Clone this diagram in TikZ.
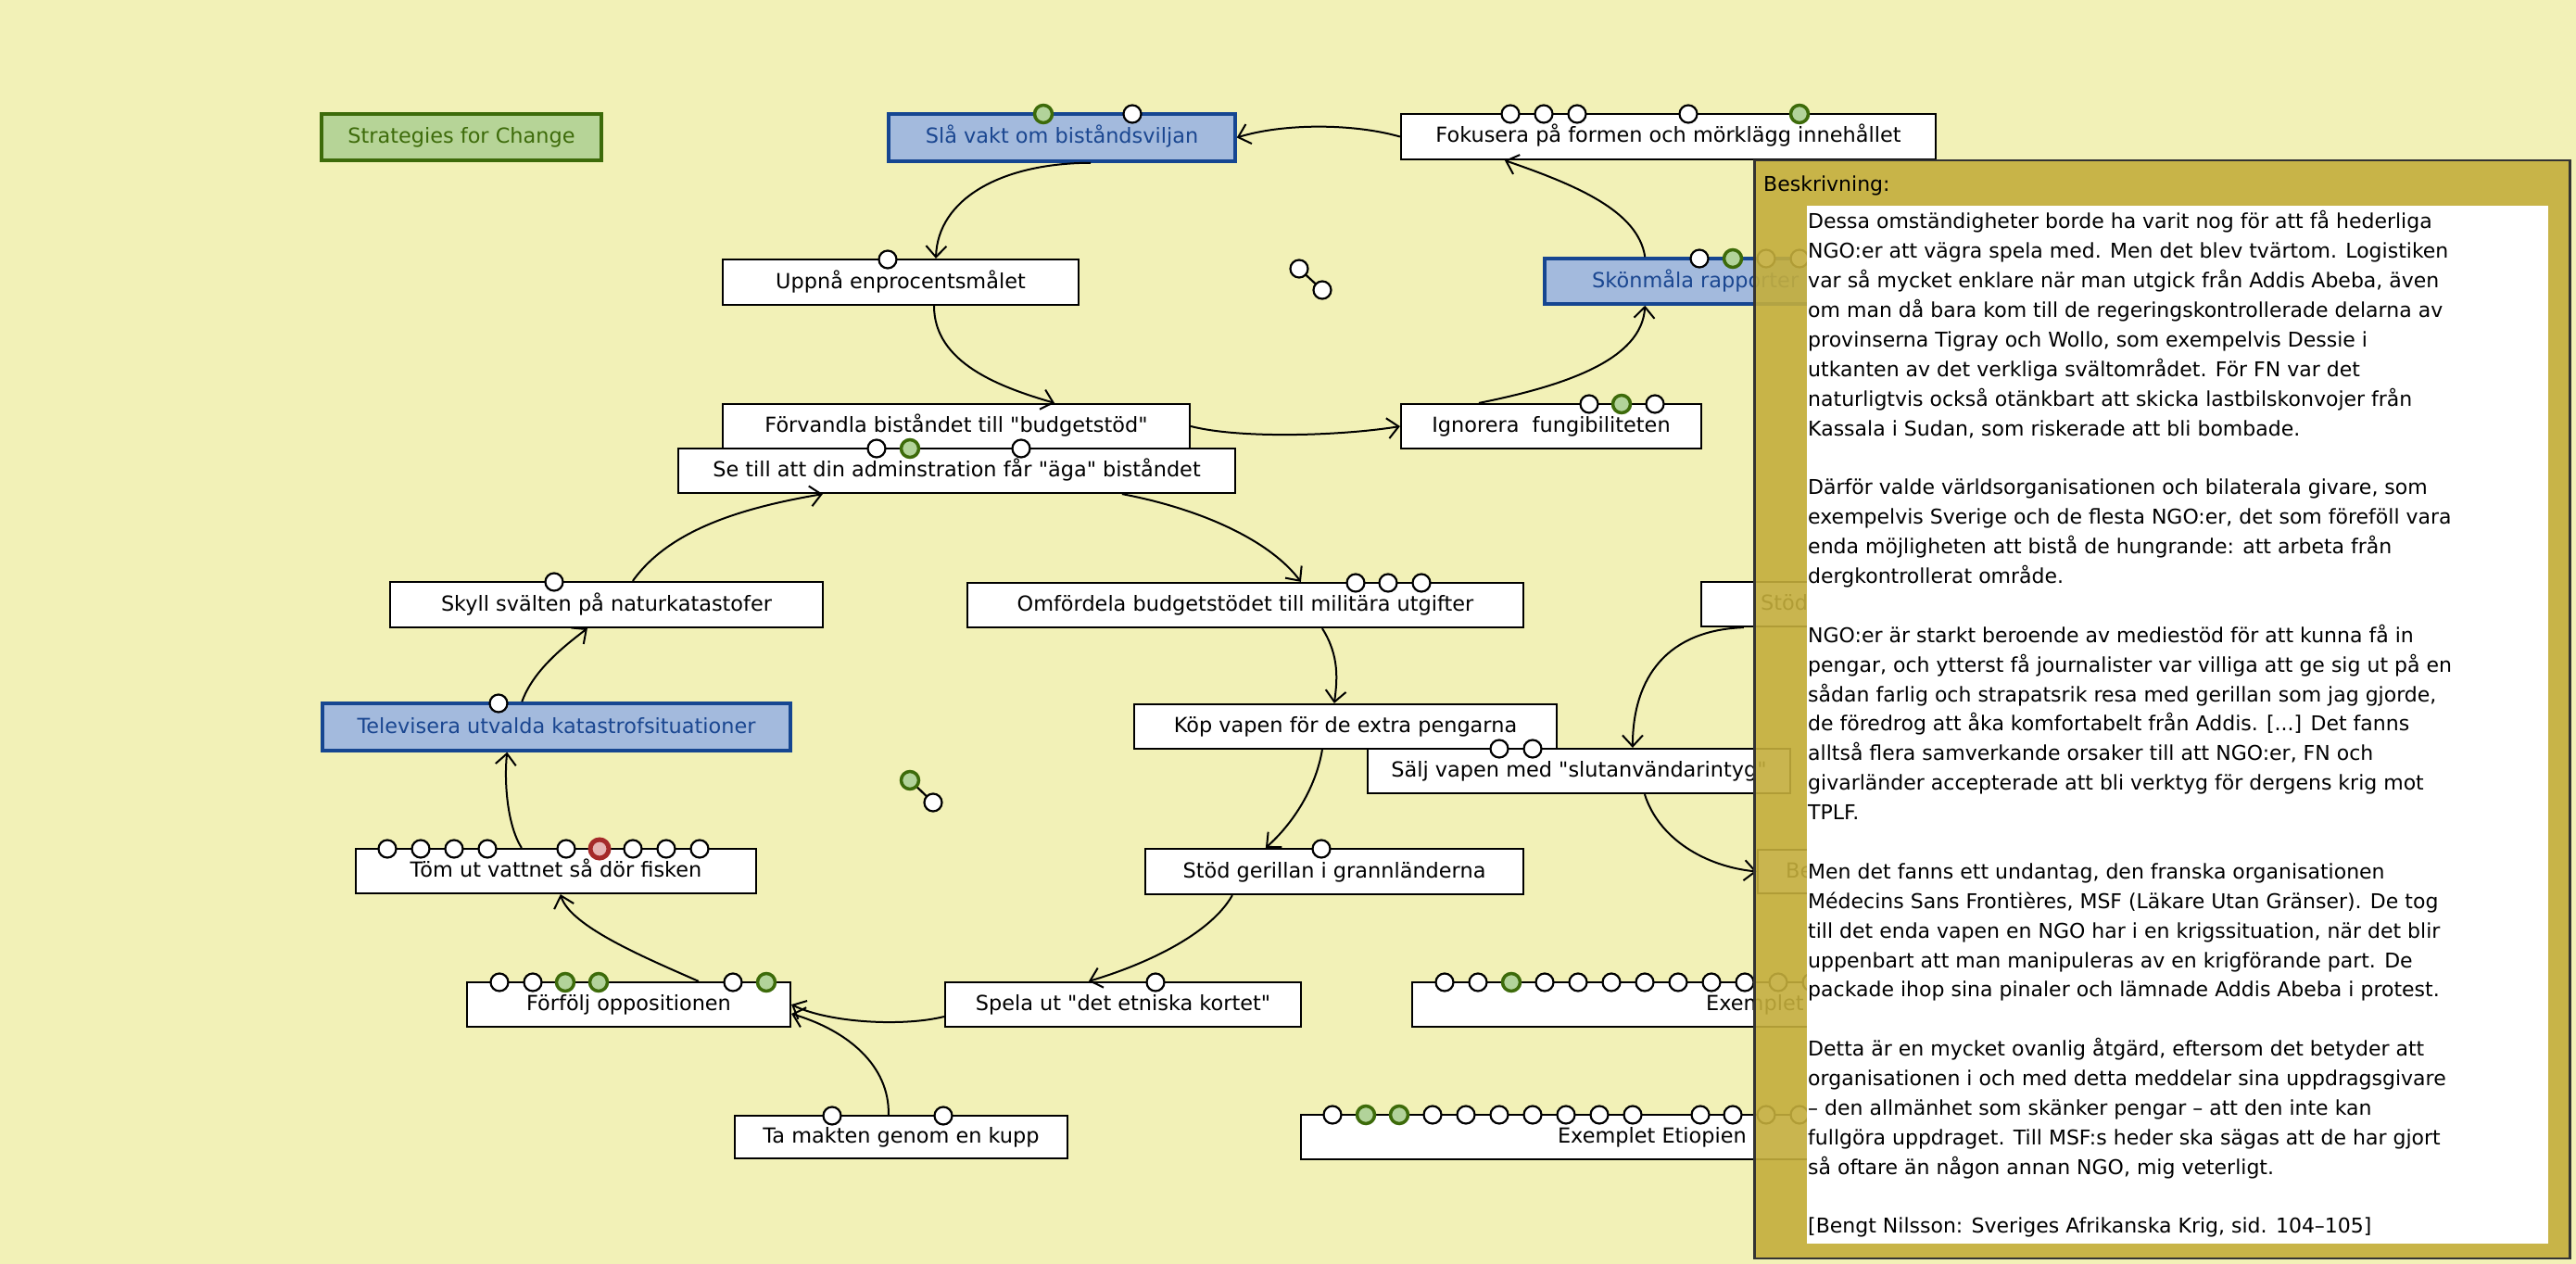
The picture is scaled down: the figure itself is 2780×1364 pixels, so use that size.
\documentclass[tikz,border=0pt]{standalone}
\usepackage{fontspec}
\setmainfont{DejaVu Sans}[Ligatures=TeXOff]
\usetikzlibrary{arrows.meta,calc}
\definecolor{bg}{HTML}{F2F1B7}
\definecolor{panelc}{HTML}{C4AE3C}
\definecolor{bfill}{HTML}{A3BADD}
\definecolor{bborder}{HTML}{164691}
\definecolor{btext}{HTML}{1A4690}
\definecolor{gfill}{HTML}{B6D497}
\definecolor{gborder}{HTML}{3D6B0A}
\definecolor{gcirc}{HTML}{B2D39A}
\definecolor{rborder}{HTML}{A52A2A}
\definecolor{rinner}{HTML}{E6B4B4}
\newcommand{\nfont}{\fontsize{22.4}{26}\selectfont}
\newcommand{\pfont}{\fontsize{22}{26}\selectfont}
\newcommand{\threedots}{...}
\newcommand{\mybox}[7]{\node[#6, minimum width={(#4-#2)*1pt}, minimum height={(#5-#3)*1pt}] (#1) at ({(#2+#4)/2},{(#3+#5)/2}) {#7};}
\begin{document}
\begin{tikzpicture}[x=1pt,y=-1pt,
  box/.style={rectangle, draw=black, fill=white, line width=2.2pt, inner sep=0pt, font=\nfont, text=black, text height=16pt, text depth=3pt},
  bluebox/.style={box, draw=bborder, fill=bfill, line width=3.5pt, text=btext},
  greenbox/.style={box, draw=gborder, fill=gfill, line width=3.5pt, text=gborder},
  lbl/.style={inner sep=0pt, font=\nfont, text height=16pt, text depth=3pt},
  conn/.style={line width=2pt, -{Straight Barb[length=12pt,width=22pt]}},
  wport/.style={fill=white, draw=black, line width=2.2pt},
  gport/.style={fill=gcirc, draw=gborder, line width=3.5pt},
  rport/.style={fill=rinner, draw=rborder, line width=5pt},
  link/.style={draw=black, line width=2.2pt},
  ptext/.style={inner sep=0pt, anchor=base west, font=\pfont}
]
\useasboundingbox (0,0) rectangle (2780,1364);
\fill[bg] (0,0) rectangle (2780,1364);

% ---------- boxes ----------
\mybox{strat}{347}{123}{649}{173}{greenbox}{Strategies for Change}
\mybox{slaa}{959}{123}{1333}{174}{bluebox}{Slå vakt om biståndsviljan}
\mybox{fok}{1512}{123}{2089}{172}{box}{Fokusera på formen och mörklägg innehållet}
\mybox{uppna}{780}{280}{1164}{329}{box}{Uppnå enprocentsmålet}
\mybox{forv}{780}{436}{1284}{484}{box}{Förvandla biståndet till "budgetstöd"}
\mybox{setill}{732}{484}{1333}{532}{box}{Se till att din adminstration får "äga" biståndet}
\mybox{ign}{1512}{436}{1836}{484}{box}{Ignorera~~fungibiliteten}
\mybox{skon}{1667}{279}{2100}{328}{bluebox}{}
\node[lbl, anchor=west, text=btext] (skontext) at (1718,303.5) {Skönmåla rapporter};
\mybox{skyll}{421}{628}{888}{677}{box}{Skyll svälten på naturkatastofer}
\mybox{omf}{1044}{629}{1644}{677}{box}{Omfördela budgetstödet till militära utgifter}
\mybox{stodR}{1836}{628}{2100}{676}{box}{}
\node[lbl, anchor=west] (stodRtext) at (1900,652) {Stöd};
\mybox{telev}{348}{759}{853}{810}{bluebox}{Televisera utvalda katastrofsituationer}
\mybox{kop}{1224}{760}{1680}{808}{box}{Köp vapen för de extra pengarna}
\mybox{salj}{1476}{808}{1932}{856}{box}{Sälj vapen med "slutanvändarintyg"}
\mybox{stod}{1236}{916}{1644}{965}{box}{Stöd gerillan i grannländerna}
\mybox{beR}{1897}{917}{2100}{964}{box}{}
\node[lbl, anchor=west] (beRtext) at (1927,940.5) {Be};
\mybox{tom}{384}{916}{816}{964}{box}{Töm ut vattnet så dör fisken}
\mybox{forf}{504}{1060}{853}{1108}{box}{Förfölj oppositionen}
\mybox{spela}{1020}{1060}{1404}{1108}{box}{Spela ut "det etniska kortet"}
\mybox{ex1}{1524}{1060}{2150}{1108}{box}{}
\node[lbl, anchor=west] (ex1text) at (1841,1084) {Exemplet};
\mybox{ta}{793}{1204}{1152}{1250}{box}{Ta makten genom en kupp}
\mybox{exet}{1404}{1203}{2160}{1251}{box}{}
\node[lbl, anchor=east] (exettext) at (1885,1227) {Exemplet Etiopien};

% ---------- connectors ----------
\draw[conn] (fok.west) .. controls (1460,133) and (1385,133) .. (slaa.east);
\draw[conn] ($(slaa.south)+(31,0)$) .. controls (1080,176) and (1012,215) .. ($(uppna.north)+(38,0)$);
\draw[conn] ($(uppna.south)+(36,0)$) .. controls (1008,392) and (1080,418) .. ($(forv.north)+(106,0)$);
\draw[conn] (forv.east) .. controls (1340,474) and (1450,470) .. (ign.west);
\draw[conn] ($(ign.north)+(-78,0)$) .. controls (1690,416) and (1772,388) .. ($(skon.south west)+(110,0)$);
\draw[conn] ($(skon.north west)+(110,0)$) .. controls (1768,228) and (1702,200) .. ($(fok.south west)+(113,0)$);
\draw[conn] ($(setill.south west)+(480,0)$) .. controls (1300,550) and (1372,585) .. ($(omf.north west)+(361,0)$);
\draw[conn] ($(omf.south west)+(384,0)$) .. controls (1446,708) and (1443,735) .. ($(kop.north west)+(217,0)$);
\draw[conn] ($(kop.south west)+(204,0)$) .. controls (1420,850) and (1396,888) .. ($(stod.north west)+(131,0)$);
\draw[conn] ($(stod.south west)+(95,0)$) .. controls (1305,1010) and (1232,1042) .. ($(spela.north west)+(156,0)$);
\draw[conn] ($(spela.west)+(0,13)$) .. controls (975,1108) and (895,1104) .. (forf.east);
\draw[conn] ($(ta.north west)+(167,0)$) .. controls (960,1150) and (915,1112) .. ($(forf.east)+(0,10)$);
\draw[conn] ($(forf.north west)+(251,0)$) .. controls (700,1035) and (615,1000) .. ($(tom.south west)+(222,0)$);
\draw[conn] ($(tom.north west)+(180,0)$) .. controls (547,890) and (544,842) .. ($(telev.south west)+(201,0)$);
\draw[conn] ($(telev.north west)+(217,0)$) .. controls (575,725) and (605,700) .. ($(skyll.south west)+(214,0)$);
\draw[conn] ($(skyll.north west)+(263,0)$) .. controls (722,572) and (800,548) .. ($(setill.south west)+(157,0)$);
\draw[conn] ($(stodR.south west)+(47,0)$) .. controls (1800,680) and (1762,730) .. ($(salj.north west)+(287,0)$);
\draw[conn] ($(salj.south west)+(300,0)$) .. controls (1790,905) and (1840,935) .. (beR.west);

% ---------- ports ----------
\draw[gport] (1126,123) circle (9.5pt);
\draw[wport] (1222,123) circle (9.5pt);
\foreach \x in {1630,1666,1702,1822} \draw[wport] (\x,123) circle (9.5pt);
\draw[gport] (1942,123) circle (9.5pt);
\draw[wport] (958,280) circle (9.5pt);
\draw[wport] (946,484) circle (9.5pt);
\draw[gport] (982,484) circle (9.5pt);
\draw[wport] (1102,484) circle (9.5pt);
\draw[wport] (1715,436) circle (9.5pt);
\draw[gport] (1750,436) circle (9.5pt);
\draw[wport] (1786,436) circle (9.5pt);
\draw[wport] (1834,279) circle (9.5pt);
\draw[gport] (1870,279) circle (9.5pt);
\foreach \x in {1906,1942} \draw[wport] (\x,279) circle (9.5pt);
\draw[wport] (598,628) circle (9.5pt);
\foreach \x in {1463,1498,1534} \draw[wport] (\x,629) circle (9.5pt);
\draw[wport] (538,759) circle (9.5pt);
\foreach \x in {1618,1654} \draw[wport] (\x,808) circle (9.5pt);
\draw[wport] (1426,916) circle (9.5pt);
\foreach \x in {418,454,490,526,611,683,719,755} \draw[wport] (\x,916) circle (9.5pt);
\draw[rport] (647,916) circle (10pt);
\foreach \x in {539,575,791} \draw[wport] (\x,1060) circle (9.5pt);
\foreach \x in {610,646,827} \draw[gport] (\x,1060) circle (9.5pt);
\draw[wport] (1247,1060) circle (9.5pt);
\foreach \x in {898,1018} \draw[wport] (\x,1204) circle (9.5pt);
\foreach \x in {1559,1595,1667,1703,1739,1775,1811,1847,1883,1919,1955} \draw[wport] (\x,1060) circle (9.5pt);
\draw[gport] (1631,1060) circle (9.5pt);
\foreach \x in {1438,1546,1582,1618,1654,1690,1726,1762,1835,1870,1906,1942} \draw[wport] (\x,1203) circle (9.5pt);
\foreach \x in {1474,1510} \draw[gport] (\x,1203) circle (9.5pt);
% loose port pairs
\draw[link] (1402,290) -- (1427,313);
\draw[wport] (1402,290) circle (9.5pt);
\draw[wport] (1427,313) circle (9.5pt);
\draw[link] (982,842) -- (1007,866);
\draw[gport] (982,842) circle (9.5pt);
\draw[wport] (1007,866) circle (9.5pt);

% ---------- description panel ----------
\node[rectangle, fill=panelc, fill opacity=0.9, draw=black!80, draw opacity=1, line width=2.2pt, minimum width=880pt, minimum height=1185pt, inner sep=0pt] (panel) at (2333.5,765.5) {};
\node[rectangle, fill=white, minimum width=800pt, minimum height=1120pt, inner sep=0pt] (desc) at (2350,782) {};
\node[ptext] (beskr) at (1903,207) {Beskrivning:};
\foreach \t [count=\i] in {
{Dessa omständigheter borde ha varit nog för att få hederliga},
{NGO:er att vägra spela med. Men det blev tvärtom. Logistiken},
{var så mycket enklare när man utgick från Addis Abeba, även},
{om man då bara kom till de regeringskontrollerade delarna av},
{provinserna Tigray och Wollo, som exempelvis Dessie i},
{utkanten av det verkliga svältområdet. För FN var det},
{naturligtvis också otänkbart att skicka lastbilskonvojer från},
{Kassala i Sudan, som riskerade att bli bombade.},
{},
{Därför valde världsorganisationen och bilaterala givare, som},
{exempelvis Sverige och de flesta NGO:er, det som föreföll vara},
{enda möjligheten att bistå de hungrande: att arbeta från},
{dergkontrollerat område.},
{},
{NGO:er är starkt beroende av mediestöd för att kunna få in},
{pengar, och ytterst få journalister var villiga att ge sig ut på en},
{sådan farlig och strapatsrik resa med gerillan som jag gjorde,},
{de föredrog att åka komfortabelt från Addis. [\threedots] Det fanns},
{alltså flera samverkande orsaker till att NGO:er, FN och},
{givarländer accepterade att bli verktyg för dergens krig mot},
{TPLF.},
{},
{Men det fanns ett undantag, den franska organisationen},
{Médecins Sans Frontières, MSF (Läkare Utan Gränser). De tog},
{till det enda vapen en NGO har i en krigssituation, när det blir},
{uppenbart att man manipuleras av en krigförande part. De},
{packade ihop sina pinaler och lämnade Addis Abeba i protest.},
{},
{Detta är en mycket ovanlig åtgärd, eftersom det betyder att},
{organisationen i och med detta meddelar sina uppdragsgivare},
{– den allmänhet som skänker pengar – att den inte kan},
{fullgöra uppdraget. Till MSF:s heder ska sägas att de har gjort},
{så oftare än någon annan NGO, mig veterligt.},
{},
{[Bengt Nilsson: Sveriges Afrikanska Krig, sid. 104–105]}}
  \node[ptext] (line\i) at (1951,{247+31.88*(\i-1)}) {\t};
\end{tikzpicture}
\end{document}
